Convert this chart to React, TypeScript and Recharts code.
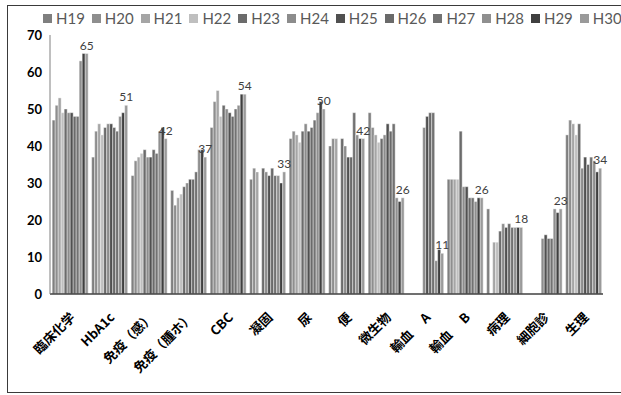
import React from 'react'
import { Bar, BarChart, LabelList, Legend, XAxis, YAxis } from 'recharts'

// 部門別の件数（H19〜H30）
const categories = ['臨床化学', 'HbA1c', '免疫（感）', '免疫（腫ホ）', 'CBC', '凝固', '尿', '便', '微生物', '輸血　 A', '輸血　 B', '病理', '細胞診', '生理']

const years = ['H19', 'H20', 'H21', 'H22', 'H23', 'H24', 'H25', 'H26', 'H27', 'H28', 'H29', 'H30']

const h19 = [47, 37, 32, 28, 45, 31, 42, 40, 49, null, 31, 23, null, 43]
const h20 = [51, 44, 36, 24, 52, 34, 44, 42, 45, null, 31, null, null, 47]
const h21 = [53, 46, 37, 26, 55, 33, 43, 42, 43, null, 31, 14, null, 46]
const h22 = [49, 43, 38, 27, 48, null, 41, null, 41, null, 31, 14, null, 43]
const h23 = [50, 45, 39, 29, 51, 34, 44, 42, 42, null, 44, 17, null, 46]
const h24 = [49, 46, 37, 30, 50, 33, 46, 40, 43, 45, 29, 19, 15, 34]
const h25 = [49, 46, 37, 31, 49, 32, 44, 37, 46, 48, 29, 18, 16, 37]
const h26 = [48, 45, 39, 31, 48, 34, 45, 37, 44, 49, 26, 19, 15, 35]
const h27 = [48, 44, 38, 33, 50, 32, 47, 49, 46, 49, 26, 18, 15, 37]
const h28 = [63, 48, 44, 39, 51, 32, 49, 43, 26, 9, 25, 18, 23, 36]
const h29 = [65, 49, 45, 39, 54, 30, 52, 42, 25, 12, 26, 18, 22, 33]
const h30 = [65, 51, 42, 37, 54, 33, 50, 42, 26, 11, 26, 18, 23, 34]

const yTicks = [0, 10, 20, 30, 40, 50, 60, 70]

const series = [h19, h20, h21, h22, h23, h24, h25, h26, h27, h28, h29, h30]
const colors = ['#7f7f7f', '#8e8e8e', '#a5a5a5', '#bfbfbf', '#6b6b6b', '#8c8c8c', '#505050', '#6a6a6a', '#727272', '#8f8f8f', '#3f3f3f', '#9a9a9a']

const data = categories.map((name, i) => {
    const row: Record<string, string | number | null> = { name }
    years.forEach((y, s) => { row[y] = series[s][i] })
    return row
})

const numFont = "Lato, 'Noto Sans', sans-serif"

const CategoryTick = ({ x, y, payload }: any) => (
    <g transform={`translate(${x + 3},${y + 13})`}>
        <text
            textAnchor="end"
            transform="rotate(-45)"
            dy="0.35em"
            fontSize={13}
            fontWeight={700}
            fontFamily="'Noto Sans CJK JP', sans-serif"
            fill="#000"
        >
            {payload.value}
        </text>
    </g>
)

const LegendRow = () => (
    <div style={{ display: 'flex', height: 20, alignItems: 'center', whiteSpace: 'nowrap' }}>
        {years.map((y, i) => (
            <div key={y} style={{ display: 'flex', alignItems: 'center', width: 48.8, flex: 'none' }}>
                <span style={{ width: 9, height: 9, background: colors[i], marginRight: 4, display: 'inline-block' }} />
                <span style={{ fontSize: 15, color: '#595959', fontFamily: numFont }}>{y}</span>
            </div>
        ))}
    </div>
)

const App = () => {
    return (
        <div style={{ position: 'absolute', left: 0, top: 0, width: 621, height: 395, overflow: 'hidden', background: '#fff' }}>
            <div style={{ position: 'absolute', left: 7, top: 5, width: 640, height: 386, border: '1.5px solid #3a3a3a' }} />
            <BarChart
                width={621}
                height={395}
                data={data}
                margin={{ top: 15, right: 18, bottom: 0, left: 0 }}
                barGap={0}
                barCategoryGap="5.5%"
            >
                <Legend
                    verticalAlign="top"
                    align="left"
                    content={<LegendRow />}
                    wrapperStyle={{ top: 8, left: 43, width: 660 }}
                />
                <XAxis
                    dataKey="name"
                    interval={0}
                    tickLine={false}
                    axisLine={{ stroke: '#404040', strokeWidth: 1.5 }}
                    tick={<CategoryTick />}
                    height={101}
                />
                <YAxis
                    domain={[0, 70]}
                    ticks={yTicks}
                    width={50}
                    tickLine={false}
                    axisLine={{ stroke: '#808080', strokeWidth: 1 }}
                    tick={{ fontSize: 13, fontWeight: 700, fill: '#000', fontFamily: numFont }}
                />
                {years.map((y, i) => (
                    <Bar key={y} dataKey={y} fill={colors[i]} stroke="#fff" strokeWidth={0.4} isAnimationActive={false}>
                        {y === 'H30' && (
                            <LabelList dataKey="H30" position="top" offset={4} fontSize={12} fill="#404040" fontFamily={numFont} />
                        )}
                    </Bar>
                ))}
            </BarChart>
        </div>
    )
}

export default App
